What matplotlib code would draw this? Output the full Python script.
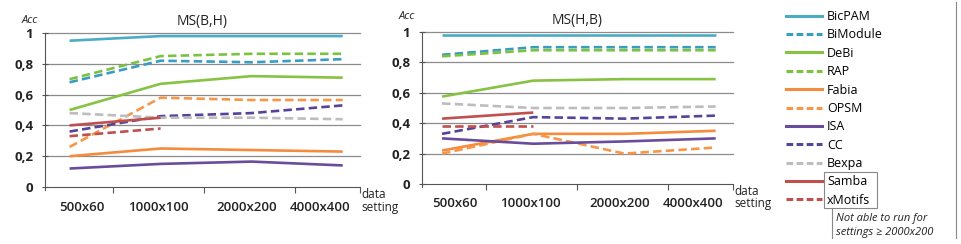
import matplotlib
matplotlib.use("Agg")
import matplotlib.pyplot as plt
from matplotlib.lines import Line2D
from matplotlib.patches import Rectangle

plt.rcParams['font.family'] = ['Open Sans', 'DejaVu Sans']

settings = ["500x60", "1000x100", "2000x200", "4000x400"]
methods = ["BicPAM", "BiModule", "DeBi", "RAP", "Fabia", "OPSM", "ISA", "CC", "Bexpa", "Samba", "xMotifs"]
colors = {"BicPAM": "#4BACC6", "BiModule": "#3A9CC0", "DeBi": "#86C343", "RAP": "#7CC242",
          "Fabia": "#F58B3C", "OPSM": "#F79646", "ISA": "#6A4C9C", "CC": "#57439A",
          "Bexpa": "#BDBDBD", "Samba": "#C0504D", "xMotifs": "#C0504D"}
dashed = {"BiModule", "RAP", "OPSM", "CC", "Bexpa", "xMotifs"}

# MS(B,H)
bh = {
    "BicPAM":   [0.95, 0.98, 0.98, 0.98],
    "BiModule": [0.68, 0.82, 0.81, 0.83],
    "DeBi":     [0.50, 0.67, 0.72, 0.71],
    "RAP":      [0.70, 0.85, 0.865, 0.865],
    "Fabia":    [0.20, 0.25, 0.24, 0.23],
    "OPSM":     [0.26, 0.58, 0.565, 0.565],
    "ISA":      [0.12, 0.15, 0.165, 0.14],
    "CC":       [0.36, 0.46, 0.48, 0.53],
    "Bexpa":    [0.48, 0.45, 0.45, 0.44],
    "Samba":    [0.40, 0.45],
    "xMotifs":  [0.33, 0.38],
}
# MS(H,B)
hb = {
    "BicPAM":   [0.98, 0.98, 0.98, 0.98],
    "BiModule": [0.85, 0.90, 0.90, 0.90],
    "DeBi":     [0.575, 0.68, 0.69, 0.69],
    "RAP":      [0.84, 0.88, 0.88, 0.88],
    "Fabia":    [0.22, 0.33, 0.33, 0.35],
    "OPSM":     [0.20, 0.33, 0.20, 0.24],
    "ISA":      [0.30, 0.265, 0.28, 0.30],
    "CC":       [0.33, 0.44, 0.43, 0.45],
    "Bexpa":    [0.53, 0.50, 0.50, 0.51],
    "Samba":    [0.43, 0.47],
    "xMotifs":  [0.38, 0.38],
}
yticks = [0, 0.2, 0.4, 0.6, 0.8, 1.0]
yticklabels = ["0", "0,2", "0,4", "0,6", "0,8", "1"]

W, H = 962, 244
fig = plt.figure(figsize=(W / 100, H / 100), dpi=100)

def fx(px):
    return px / W

def fy(py):
    return 1 - py / H

def make_ax(x0, x1, y0, y1, data, title, xl, acc_y):
    ax = fig.add_axes([fx(x0), fy(y1), fx(x1) - fx(x0), fy(y0) - fy(y1)])
    ax.set_xlim(*xl)
    ax.set_ylim(0, 1)
    for yv in yticks[1:]:
        ax.axhline(yv, color="#8c8c8c", lw=0.9, zorder=1, clip_on=False)
    for m in methods:
        vals = data[m]
        xs = list(range(len(vals)))
        ls = (0, (3.2, 1.6)) if m in dashed else "-"
        ax.plot(xs, vals, color=colors[m], lw=1.9, linestyle=ls, zorder=3,
                solid_capstyle="butt", dash_capstyle="butt")
    for s in ["top", "right"]:
        ax.spines[s].set_visible(False)
    ax.spines["left"].set_color("#555555")
    ax.spines["bottom"].set_color("#555555")
    ax.spines["left"].set_bounds(-0.02, 1)
    ax.set_yticks(yticks)
    ax.set_yticklabels(yticklabels, fontsize=9.5, fontweight="bold", color="#222222")
    ax.tick_params(axis="y", length=5, direction="inout", color="#555555", pad=6)
    ax.set_xticks([0.48, 1.48, 2.48, xl[1]])
    ax.set_xticklabels([])
    ax.tick_params(axis="x", length=4, direction="out", color="#555555")
    offs = [0.14, -0.03, -0.05, -0.25]
    for i, lab in enumerate(settings):
        ax.text(i + offs[i], -0.13, lab, transform=ax.get_xaxis_transform(),
                ha="center", va="center", fontsize=9.5, fontweight="semibold", color="#222222")
    ax.text(0.5, 1.075, title, transform=ax.transAxes, ha="center", va="center", fontsize=10, color="#222222")
    ax.text(-0.048, acc_y, "Acc", transform=ax.transAxes, ha="center", va="center",
            fontsize=8, style="italic", color="#222222")
    ax.text(1.005, -0.09, "data\nsetting", transform=ax.transAxes, ha="left", va="center",
            fontsize=8.5, color="#222222", linespacing=0.95)
    return ax

make_ax(45, 360, 33, 187, bh, "MS(B,H)", (-0.27, 3.19), 1.08)
make_ax(422, 733, 32, 184, hb, "MS(H,B)", (-0.22, 3.19), 1.10)

# legend
handles = []
for m in methods:
    ls = (0, (2.2, 1.1)) if m in dashed else "-"
    handles.append(Line2D([], [], color=colors[m], lw=2.2, linestyle=ls))
fig.legend(handles, methods, loc="upper left", bbox_to_anchor=(fx(786), fy(10)),
           frameon=False, fontsize=9, handlelength=2.9, handletextpad=0.4,
           labelspacing=0.43, borderaxespad=0, borderpad=0)

# box around Samba / xMotifs and note
fig.add_artist(Rectangle((fx(824), fy(208)), fx(877) - fx(824), fy(172) - fy(208),
                         transform=fig.transFigure, fill=False, ec="#888888", lw=0.8))
fig.add_artist(Line2D([fx(832), fx(832)], [fy(208), fy(238)], transform=fig.transFigure,
                      color="#888888", lw=0.8))
fig.text(fx(836), fy(218), "Not able to run for", fontsize=8, style="italic", va="center", ha="left", color="#222222")
fig.text(fx(836), fy(232), "settings \u2265 2000x200", fontsize=8, style="italic", va="center", ha="left", color="#222222")
# right frame border
fig.add_artist(Line2D([fx(956), fx(956)], [fy(2), fy(238)], transform=fig.transFigure,
                      color="#888888", lw=0.8))

fig.savefig("out.png", dpi=100, facecolor="white")
